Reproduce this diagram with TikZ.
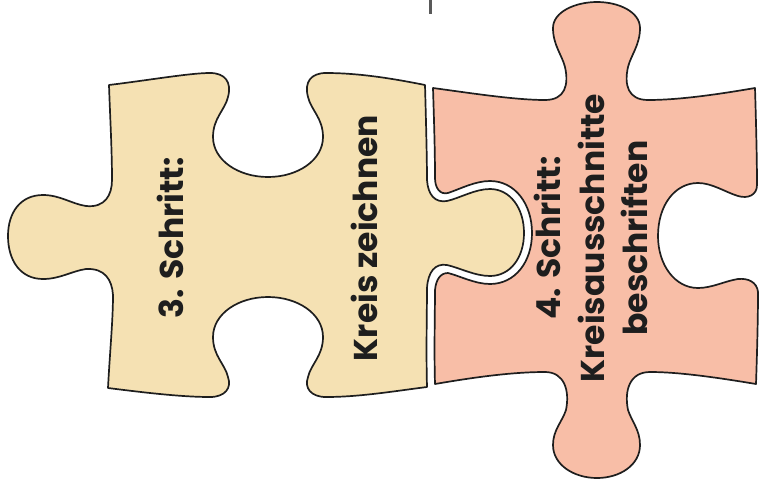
\documentclass[tikz,border=0pt]{standalone}
\usepackage{fontspec}
\setmainfont{Poppins}
\definecolor{beigefill}{HTML}{F5E1B3}
\definecolor{pinkfill}{HTML}{F8BEA7}
\definecolor{inkdark}{HTML}{1E1E1E}
\begin{document}
\begin{tikzpicture}[x=1pt,y=-1pt,
  piece/.style={draw=inkdark, line width=1.7pt, line join=round},
  lbl/.style={font=\fontsize{33}{43.5}\selectfont\bfseries, text=inkdark, rotate=90, align=center, inner sep=0pt}]
\useasboundingbox (0,0) rectangle (763,485);

% small gray mark at the top
\coordinate (marktop) at (430,0);
\coordinate (markbot) at (430,14);
\draw[line width=3pt, color=black!65] (marktop) -- (markbot);

% beige piece (3. Schritt)
\path[piece, fill=beigefill]
  (109,85) .. controls (150,80) and (190,73) .. (210,73)
  .. controls (225,73) and (232,82) .. (228,97)
  .. controls (225,110) and (213,118) .. (213,137)
  .. controls (213,160) and (238,177) .. (268,177)
  .. controls (298,177) and (323,160) .. (323,137)
  .. controls (323,118) and (311,110) .. (308,97)
  .. controls (304,82) and (311,73) .. (326,73)
  .. controls (360,73) and (395,79) .. (425,85)
  .. controls (426,120) and (427,160) .. (427,180)
  .. controls (428,195) and (435,203) .. (447,201)
  .. controls (460,198) and (475,189) .. (490,189)
  .. controls (510,189) and (524,208) .. (524,233)
  .. controls (524,258) and (510,276) .. (490,276)
  .. controls (475,276) and (460,268) .. (447,265)
  .. controls (435,263) and (428,272) .. (427,288)
  .. controls (427,310) and (426,350) .. (427,387)
  .. controls (395,391) and (360,397) .. (326,397)
  .. controls (311,397) and (304,388) .. (308,377)
  .. controls (311,364) and (323,356) .. (323,337)
  .. controls (323,314) and (298,297) .. (268,297)
  .. controls (238,297) and (213,314) .. (213,337)
  .. controls (213,356) and (225,364) .. (228,377)
  .. controls (232,388) and (225,397) .. (210,397)
  .. controls (180,397) and (140,392) .. (108,388)
  .. controls (110,350) and (113,320) .. (113,295)
  .. controls (112,280) and (105,268) .. (86,269)
  .. controls (72,271) and (60,279) .. (43,279)
  .. controls (20,279) and (8,260) .. (8,236)
  .. controls (8,213) and (20,195) .. (43,195)
  .. controls (60,195) and (72,204) .. (86,206)
  .. controls (105,208) and (112,195) .. (112,180)
  .. controls (112,150) and (110,115) .. (109,85) -- cycle;

% pink piece (4. Schritt)
\path[piece, fill=pinkfill]
  (433,88) .. controls (470,93) and (515,100) .. (545,100)
  .. controls (565,100) and (569,85) .. (565,67)
  .. controls (562,55) and (553,45) .. (553,28)
  .. controls (553,12) and (575,2) .. (597,2)
  .. controls (619,2) and (640,12) .. (640,28)
  .. controls (640,45) and (631,55) .. (628,67)
  .. controls (624,85) and (628,100) .. (648,100)
  .. controls (680,100) and (720,94) .. (755,88)
  .. controls (756,120) and (757,160) .. (757,185)
  .. controls (757,195) and (748,199) .. (738,196)
  .. controls (725,192) and (712,183) .. (698,183)
  .. controls (675,183) and (658,205) .. (658,236)
  .. controls (658,265) and (675,288) .. (698,288)
  .. controls (712,288) and (725,281) .. (738,279)
  .. controls (748,278) and (757,282) .. (758,292)
  .. controls (758,320) and (757,355) .. (756,384)
  .. controls (720,378) and (680,372) .. (650,372)
  .. controls (630,372) and (624,390) .. (628,410)
  .. controls (632,422) and (640,430) .. (640,445)
  .. controls (640,465) and (620,478) .. (597,478)
  .. controls (574,478) and (553,465) .. (553,445)
  .. controls (553,430) and (562,422) .. (566,410)
  .. controls (570,390) and (564,372) .. (545,372)
  .. controls (510,372) and (470,378) .. (435,384)
  .. controls (434,350) and (435,310) .. (435,290)
  .. controls (436,280) and (440,273) .. (448,273)
  .. controls (460,276) and (475,284) .. (490,284)
  .. controls (515,284) and (532,262) .. (532,233)
  .. controls (532,204) and (515,181) .. (490,181)
  .. controls (475,181) and (460,189) .. (448,193)
  .. controls (440,195) and (435,188) .. (435,178)
  .. controls (435,150) and (434,120) .. (433,88) -- cycle;

% texts
\node[lbl] (s3) at (170,238) {3. Schritt:};
\node[lbl] (k3) at (364,238) {Kreis zeichnen};
\node[lbl] (s4) at (591,238) {4. Schritt:\\Kreisausschnitte\\beschriften};
\end{tikzpicture}
\end{document}
